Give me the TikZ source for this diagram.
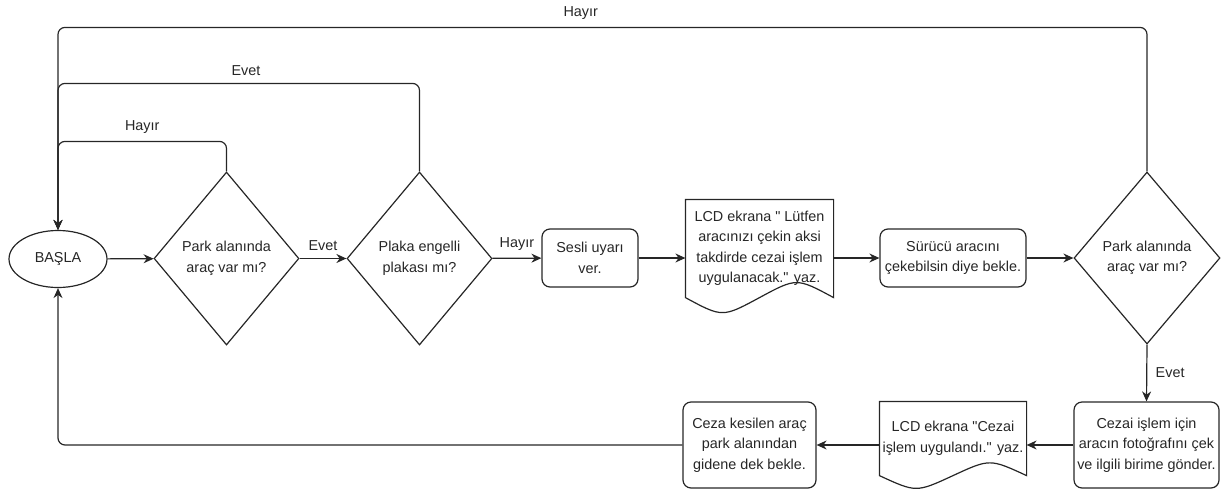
\documentclass[tikz,border=0pt]{standalone}
\usepackage{fontspec}
\setmainfont{Liberation Sans}
\usetikzlibrary{shapes.geometric,arrows.meta,calc}
\tikzset{
  base/.style={line width=1.2pt,draw=black!85,text=black!85,align=center,
    font=\fontsize{14.4}{20.5}\selectfont,inner sep=0pt},
  startstop/.style={base,ellipse,minimum width=98,minimum height=57},
  decision/.style={base,diamond,minimum width=145,minimum height=173},
  process/.style={base,rectangle,rounded corners=8pt},
  docnode/.style={base,rectangle,draw=none},
  arrow/.style={line width=1.2pt,draw=black!85,-{Stealth[length=10pt,width=9pt]},rounded corners=7pt},
  lbl/.style={text=black!85,font=\fontsize{14.4}{17}\selectfont}
}
\newcommand{\docwave}[2]{%
  \draw[line width=1.2pt,draw=black!85] (#1.south west) -- (#1.north west) -- (#1.north east) -- (#1.south east)
    .. controls ([yshift=#2]$(#1.south east)!0.25!(#1.south west)$) .. ($(#1.south east)!0.5!(#1.south west)$)
    .. controls ([yshift=-#2]$(#1.south east)!0.75!(#1.south west)$) .. (#1.south west) -- cycle;}
\begin{document}
\begin{tikzpicture}[x=1pt,y=-1pt]
  \useasboundingbox (0,0) rectangle (1223,493);
  \node[startstop] (basla) at (58,259) {BAŞLA};
  \node[decision] (park1) at (226.5,258.5) {Park alanında\\araç var mı?};
  \node[decision] (plaka) at (419.5,258.5) {Plaka engelli\\plakası mı?};
  \node[process,minimum width=96,minimum height=58] (uyari) at (590,258) {Sesli uyarı\\ver.};
  \node[docnode,minimum width=147,minimum height=97] (lcd1) at (759.5,248.5) {LCD ekrana \textquotedbl{} Lütfen\\aracınızı çekin aksi\\takdirde cezai işlem\\uygulanacak.\textquotedbl{} yaz.};
  \node[process,minimum width=146,minimum height=58] (bekle1) at (953,258) {Sürücü aracını\\çekebilsin diye bekle.};
  \node[decision,minimum width=146,minimum height=172] (park2) at (1147,258) {Park alanında\\araç var mı?};
  \node[process,minimum width=145,minimum height=86] (ceza) at (1146.5,445) {Cezai işlem için\\aracın fotoğrafını çek\\ve ilgili birime gönder.};
  \node[docnode,minimum width=146,minimum height=73] (lcd2) at (953,438.5) {LCD ekrana \textquotedbl{}Cezai\\işlem uygulandı.\textquotedbl{} yaz.};
  \node[process,minimum width=133,minimum height=86] (bekle2) at (749.5,445) {Ceza kesilen araç\\park alanından\\gidene dek bekle.};
  \docwave{lcd1}{20pt}
  \docwave{lcd2}{17pt}

  \draw[arrow] (basla) -- (park1);
  \draw[arrow] (park1) -- node[lbl,above=4pt] {Evet} (plaka);
  \draw[arrow] (plaka) -- node[lbl,above=4pt] {Hayır} (uyari);
  \draw[arrow] (uyari.east) -- (uyari.east -| lcd1.west);
  \draw[arrow] (lcd1.east |- bekle1.west) -- (bekle1.west);
  \draw[arrow] (bekle1) -- (park2);
  \draw[arrow] (park2.south) -- node[lbl,right=5pt] {Evet} (ceza.north);
  \draw[arrow] (ceza.west) -- (ceza.west -| lcd2.east);
  \draw[arrow] (lcd2.west |- bekle2.east) -- (bekle2.east);
  \draw[arrow] (bekle2.west) -| (basla.south);
  \draw[arrow] (park1.north) -- ++(0,-30) -| node[lbl,pos=0.25,above=4pt] {Hayır} (basla.north);
  \draw[arrow] (plaka.north) -- ++(0,-88) -| node[lbl,pos=0.24,above=4pt] {Evet} (basla.north);
  \draw[arrow] (park2.north) -- ++(0,-144) -| node[lbl,pos=0.26,above=4pt] {Hayır} (basla.north);
\end{tikzpicture}
\end{document}
